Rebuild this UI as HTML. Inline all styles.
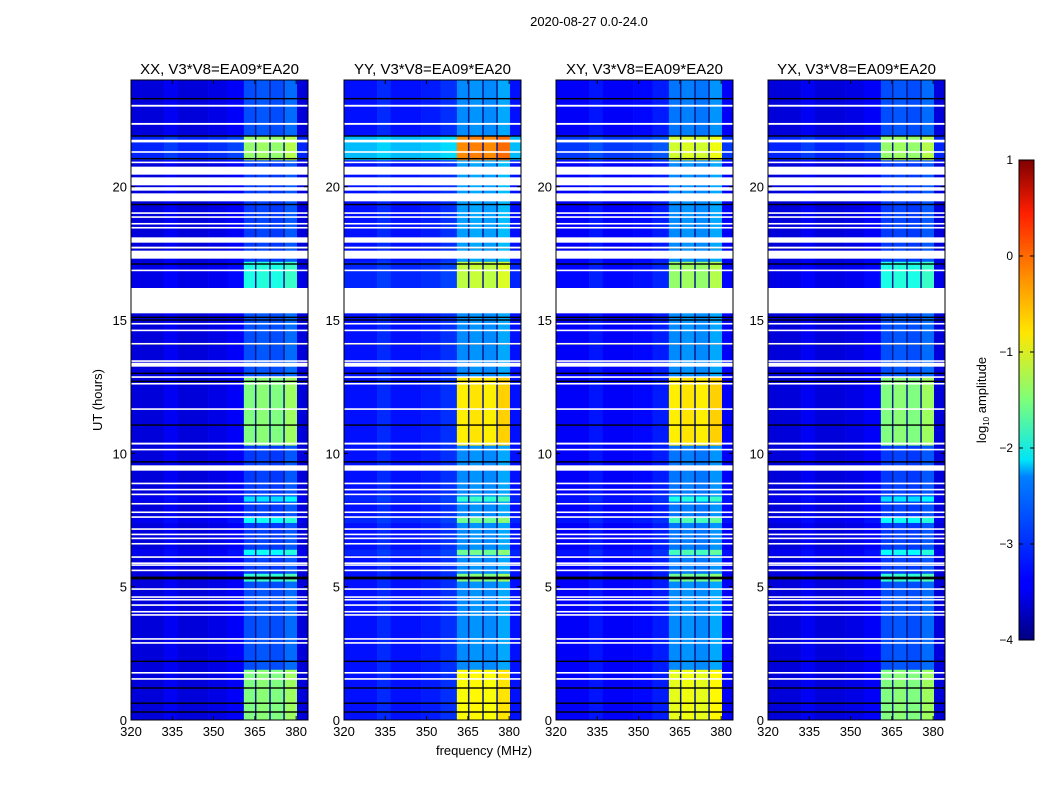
<!DOCTYPE html>
<html><head><meta charset="utf-8">
<style>
body{margin:0;background:#fff;}
svg text{font-family:"Liberation Sans",sans-serif;fill:#000;}
</style></head>
<body>
<svg id="fig" width="1050" height="800" xmlns="http://www.w3.org/2000/svg">
<defs>
<linearGradient id="jet" x1="0" y1="1" x2="0" y2="0">
<stop offset="0" stop-color="#00007f"/><stop offset="0.11" stop-color="#0000ff"/>
<stop offset="0.125" stop-color="#0000ff"/><stop offset="0.34" stop-color="#0080ff"/>
<stop offset="0.375" stop-color="#00e5f8"/><stop offset="0.5" stop-color="#7dff7a"/>
<stop offset="0.64" stop-color="#ffe600"/><stop offset="0.75" stop-color="#ff9400"/>
<stop offset="0.89" stop-color="#ff1e00"/><stop offset="1" stop-color="#7f0000"/>
</linearGradient>
</defs>
<text x="589" y="26" font-size="13" text-anchor="middle">2020-08-27 0.0-24.0</text>
<text x="484" y="755" font-size="13" text-anchor="middle">frequency (MHz)</text>
<text x="102" y="400" font-size="13" text-anchor="middle" transform="rotate(-90 102 400)">UT (hours)</text>
<g id="panels"></g>
<g>
<rect x="1019" y="160" width="15" height="480" fill="url(#jet)" stroke="#000" stroke-width="1"/>
<g id="cbticks"></g>
<text x="986" y="400" font-size="13" text-anchor="middle" transform="rotate(-90 986 400)">log<tspan font-size="8" dy="3">10</tspan><tspan dy="-3"> amplitude</tspan></text>
</g>
</svg>
<script>
// ---- data ----
const panelTitles = ["XX, V3*V8=EA09*EA20","YY, V3*V8=EA09*EA20","XY, V3*V8=EA09*EA20","YX, V3*V8=EA09*EA20"];
const segBounds = [0,1.9,5.2,5.5,6.2,6.4,7.4,7.6,8.2,8.4,10.3,12.9,16.2,17.2,21.0,21.9,24];
const bandXX = [-1.5,-3.0,-1.9,-3.1,-2.1,-3.1,-2.1,-3.1,-2.3,-3.1,-1.5,-3.0,-2.0,-3.1,-1.4,-3.0];
const bandYY = [-0.9,-2.7,-1.5,-2.7,-1.6,-2.7,-1.6,-2.7,-1.9,-2.7,-0.8,-2.7,-1.2,-2.6,-0.3,-2.7];
const bandXY = [-1.0,-2.7,-1.6,-2.8,-1.8,-2.8,-1.8,-2.8,-2.0,-2.8,-0.8,-2.7,-1.4,-2.7,-1.1,-2.8];
const bandYX = [-1.5,-3.0,-1.9,-3.1,-2.1,-3.1,-2.1,-3.1,-2.3,-3.1,-1.5,-3.0,-2.0,-3.1,-1.4,-3.0];
const bgXX = [-3.55,-3.55,-3.55,-3.55,-3.45,-3.55,-3.45,-3.55,-3.45,-3.55,-3.55,-3.55,-3.5,-3.55,-3.2,-3.55];
const bgYY = [-3.3,-3.3,-3.3,-3.3,-3.2,-3.3,-3.2,-3.3,-3.2,-3.3,-3.3,-3.3,-3.2,-3.3,-2.45,-3.3];
const bgXY = [-3.4,-3.4,-3.4,-3.4,-3.3,-3.4,-3.3,-3.4,-3.3,-3.4,-3.4,-3.4,-3.35,-3.4,-3.1,-3.4];
const bgYX = [-3.55,-3.55,-3.55,-3.55,-3.45,-3.55,-3.45,-3.55,-3.45,-3.55,-3.55,-3.55,-3.5,-3.55,-3.2,-3.55];
const bandSubOffset = [0.0,0.05,0.0,0.15];
const bandEdges = [361,365.3,370.5,375.6,380.3];
const bgFreqEdges = [320,332,337,348,355,361,380.3,384.3];
const bgFreqOffset = [0,0.12,0,0.05,0.15,0,0];
const flagStart = [23.0,22.32,21.66,21.27,20.88,20.45,20.05,19.85,19.45,18.98,18.83,18.58,18.43,17.9,17.68,17.3,16.83,15.25,14.83,14.58,14.08,13.43,13.25,12.83,12.58,11.63,10.33,10.11,9.35,8.84,8.61,8.43,8.08,7.76,7.58,7.13,6.93,6.78,6.58,6.08,5.85,5.78,5.58,4.88,4.58,4.48,4.28,4.03,3.91,3.01,2.86,1.74,1.51];
const flagEnd   = [23.07,22.39,21.76,21.33,20.94,20.75,20.35,19.98,19.75,19.04,18.89,18.64,18.49,18.1,17.75,17.6,16.89,16.2,14.89,14.64,14.14,13.49,13.4,12.89,12.64,11.69,10.4,10.17,9.55,8.9,8.67,8.49,8.14,7.82,7.64,7.19,6.99,6.84,6.64,6.14,5.91,5.84,5.64,4.94,4.64,4.54,4.34,4.09,3.97,3.07,2.92,1.8,1.57];
const blackLines = [23.3,21.9,21.05,19.33,17.7,17.1,16.15,15.1,15.0,14.1,13.0,12.7,11.06,9.68,5.3,5.35,2.2,1.2,0.63,0.3];
const xTicks = [320,335,350,365,380];
const yTicks = [0,5,10,15,20];
const cbTicks = [1,0,-1,-2,-3,-4];
// ---- layout ----
const panelX = [131,344,556,768];
const PW=177, Y0=720, PH=640, FMIN=320, FMAX=384.3, HMAX=24;
const bands=[bandXX,bandYY,bandXY,bandYX], bgs=[bgXX,bgYY,bgXY,bgYX];
const NS="http://www.w3.org/2000/svg";
function jet(v){
  let t=Math.max(0,Math.min(1,(v+4)/5));
  const c=x=>Math.round(255*Math.max(0,Math.min(1,x)));
  return `rgb(${c(1.5-Math.abs(4*t-3))},${c(1.5-Math.abs(4*t-2))},${c(1.5-Math.abs(4*t-1))})`;
}
function mk(tag,attrs,parent){const e=document.createElementNS(NS,tag);for(const k in attrs)e.setAttribute(k,attrs[k]);parent.appendChild(e);return e;}
const root=document.getElementById('panels');
panelX.forEach((x0,p)=>{
  const xs=f=>x0+(f-FMIN)/(FMAX-FMIN)*PW;
  const ys=h=>Y0-h/HMAX*PH;
  const g=mk('g',{},root);
  
  
  const t=mk('text',{x:x0+PW/2,y:74,'font-size':15,'text-anchor':'middle'},g);
  
  
  t.textContent=panelTitles[p];
  for(let s=0;s<segBounds.length-1;s++){
    const y1=ys(segBounds[s+1]), y2=ys(segBounds[s]);
    for(let b=0;b<bgFreqEdges.length-1;b++){
      const r=mk('rect',{x:xs(bgFreqEdges[b]),y:y1,width:xs(bgFreqEdges[b+1])-xs(bgFreqEdges[b])+0.3,height:y2-y1+0.3,fill:jet(bgs[p][s]+bgFreqOffset[b])},g);
      
      
    }
    for(let b=0;b<bandEdges.length-1;b++){
      const r=mk('rect',{x:xs(bandEdges[b]),y:y1,width:xs(bandEdges[b+1])-xs(bandEdges[b]),height:y2-y1+0.3,fill:jet(bands[p][s]+bandSubOffset[b])},g);
      
      
    }
  }
  for(let b=1;b<bandEdges.length-1;b++){
    const l=mk('line',{x1:xs(bandEdges[b]),x2:xs(bandEdges[b]),y1:ys(24),y2:Y0,stroke:'#0a1a8a','stroke-width':1.5},g);
    
    
  }
  blackLines.forEach(h=>{
    const l=mk('rect',{x:x0,y:ys(h)-0.7,width:PW,height:1.4,fill:'#000'},g);
    
    
  });
  flagStart.forEach((h,i)=>{
    const r=mk('rect',{x:x0,y:ys(flagEnd[i]),width:PW,height:Math.max(1.2,ys(h)-ys(flagEnd[i])),fill:'#fff'},g);
    
    
  });
  const fr=mk('rect',{x:x0,y:Y0-PH,width:PW,height:PH,fill:'none',stroke:'#000','stroke-width':1},g);
  
  
  xTicks.forEach(v=>{
    const x=xs(v);
    mk('line',{x1:x,x2:x,y1:Y0,y2:Y0-4,stroke:'#000'},g);
    mk('line',{x1:x,x2:x,y1:Y0-PH,y2:Y0-PH+4,stroke:'#000'},g);
    const tl=mk('text',{x:x,y:Y0+16,'font-size':13,'text-anchor':'middle'},g);
    
    
    tl.textContent=v;
  });
  yTicks.forEach(v=>{
    const y=ys(v);
    mk('line',{x1:x0,x2:x0+4,y1:y,y2:y,stroke:'#000'},g);
    mk('line',{x1:x0+PW,x2:x0+PW-4,y1:y,y2:y,stroke:'#000'},g);
    const tl=mk('text',{x:x0-4,y:y+5,'font-size':13,'text-anchor':'end'},g);
    
    
    tl.textContent=v;
  });
});
const cb=document.getElementById('cbticks');
cbTicks.forEach(v=>{
  const y=640-(v+4)/5*480;
  mk('line',{x1:1019,x2:1023,y1:y,y2:y,stroke:'#000'},cb);
  mk('line',{x1:1034,x2:1030,y1:y,y2:y,stroke:'#000'},cb);
  const tl=mk('text',{x:1013,y:y+4,'font-size':12,'text-anchor':'end'},cb);
  
  
  tl.textContent=(v<0?'\u2212'+(-v):v);
});
</script>
</body></html>
